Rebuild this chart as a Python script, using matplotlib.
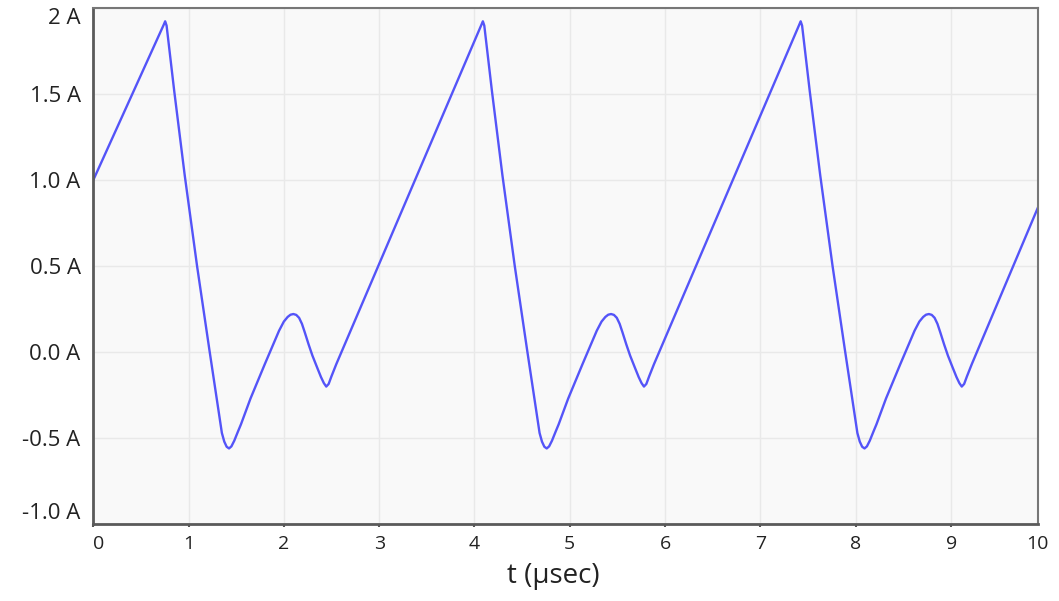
import matplotlib
matplotlib.use("Agg")
import matplotlib.pyplot as plt

# valores (t en microsegundos, corriente en amperios)
t_us = [
    0.00,
    0.74, 0.755, 0.77, 0.85, 0.96, 1.09, 1.22, 1.35, 1.375, 1.40, 1.425, 1.45,
    1.48, 1.52, 1.55, 1.65, 1.80, 1.90, 1.95, 2.00, 2.04, 2.07, 2.10, 2.13,
    2.16, 2.19, 2.22, 2.26, 2.30, 2.35, 2.39, 2.42, 2.445, 2.47, 2.50, 2.55,
    4.073, 4.088, 4.103, 4.183, 4.293, 4.423, 4.553, 4.683, 4.708, 4.733, 4.758,
    4.783, 4.813, 4.853, 4.883, 4.983, 5.133, 5.233, 5.283, 5.333, 5.373, 5.403,
    5.433, 5.463, 5.493, 5.523, 5.553, 5.593, 5.633, 5.683, 5.723, 5.753, 5.778,
    5.803, 5.833, 5.883,
    7.407, 7.422, 7.437, 7.517, 7.627, 7.757, 7.887, 8.017, 8.042, 8.067, 8.092,
    8.117, 8.147, 8.187, 8.217, 8.317, 8.467, 8.567, 8.617, 8.667, 8.707, 8.737,
    8.767, 8.797, 8.827, 8.857, 8.887, 8.927, 8.967, 9.017, 9.057, 9.087, 9.112,
    9.137, 9.167, 9.217,
    9.91,
]
i_amp = [
    1.00,
    1.905, 1.925, 1.90, 1.52, 1.03, 0.50, 0.01, -0.47, -0.52, -0.55, -0.56, -0.548,
    -0.515, -0.46, -0.42, -0.27, -0.07, 0.06, 0.125, 0.178, 0.205, 0.218, 0.222, 0.217,
    0.200, 0.165, 0.115, 0.045, -0.02, -0.09, -0.145, -0.18, -0.20, -0.185, -0.14, -0.07,
    1.905, 1.925, 1.90, 1.52, 1.03, 0.50, 0.01, -0.47, -0.52, -0.55, -0.56,
    -0.548, -0.515, -0.46, -0.42, -0.27, -0.07, 0.06, 0.125, 0.178, 0.205, 0.218,
    0.222, 0.217, 0.200, 0.165, 0.115, 0.045, -0.02, -0.09, -0.145, -0.18, -0.20,
    -0.185, -0.14, -0.07,
    1.905, 1.925, 1.90, 1.52, 1.03, 0.50, 0.01, -0.47, -0.52, -0.55, -0.56,
    -0.548, -0.515, -0.46, -0.42, -0.27, -0.07, 0.06, 0.125, 0.178, 0.205, 0.218,
    0.222, 0.217, 0.200, 0.165, 0.115, 0.045, -0.02, -0.09, -0.145, -0.18, -0.20,
    -0.185, -0.14, -0.07,
    0.84,
]

x_ticks = [0, 1, 2, 3, 4, 5, 6, 7, 8, 9]
x_labels = ["0", "1", "2", "3", "4", "5", "6", "7", "8", "9"]
y_ticks = [2.0, 1.5, 1.0, 0.5, 0.0, -0.5, -1.0]
y_labels = ["2 A", "1.5 A", "1.0 A", "0.5 A", "0.0 A", "-0.5 A", "-1.0 A"]

plt.rcParams["font.family"] = ["Open Sans", "DejaVu Sans"]

fig = plt.figure(figsize=(10.59, 6.01), dpi=100)
ax = fig.add_axes([0.088, 0.128, 0.892, 0.858])
ax.set_facecolor("#f9f9f9")

ax.plot(t_us, i_amp, color="#5454f8", linewidth=1.7, solid_joinstyle="round")

ax.set_xlim(0, 9.91)
ax.set_ylim(-1.0, 2.0)

ax.set_xticks(x_ticks)
ax.set_xticklabels(x_labels, fontsize=14, color="#222222")
ax.set_yticks(y_ticks)
ax.set_yticklabels(y_labels, fontsize=16, color="#222222")
ax.tick_params(axis="x", length=2, width=1.5, color="#555555", pad=6)
ax.tick_params(axis="y", length=0, pad=9)

# etiquetas de los extremos desplazadas hacia dentro, como en la imagen
ylabs = ax.get_yticklabels()
ylabs[0].set_va("top")
ylabs[-1].set_va("bottom")
ax.get_xticklabels()[0].set_ha("left")
ax.annotate("10", xy=(1.0, 0.0), xycoords="axes fraction", xytext=(0, -8),
            textcoords="offset points", ha="center", va="top",
            fontsize=14, color="#222222")

ax.grid(True, color="#e9e9e9", linewidth=1)
ax.set_axisbelow(True)

for lado in ["left", "bottom"]:
    ax.spines[lado].set_color("#5a5a5a")
    ax.spines[lado].set_linewidth(2)
for lado in ["top", "right"]:
    ax.spines[lado].set_color("#777777")
    ax.spines[lado].set_linewidth(1.5)

ax.set_xlabel("t (µsec)", fontsize=20, color="#222222")
ax.xaxis.set_label_coords(0.487, -0.074)

fig.savefig("out.png", dpi=100)
